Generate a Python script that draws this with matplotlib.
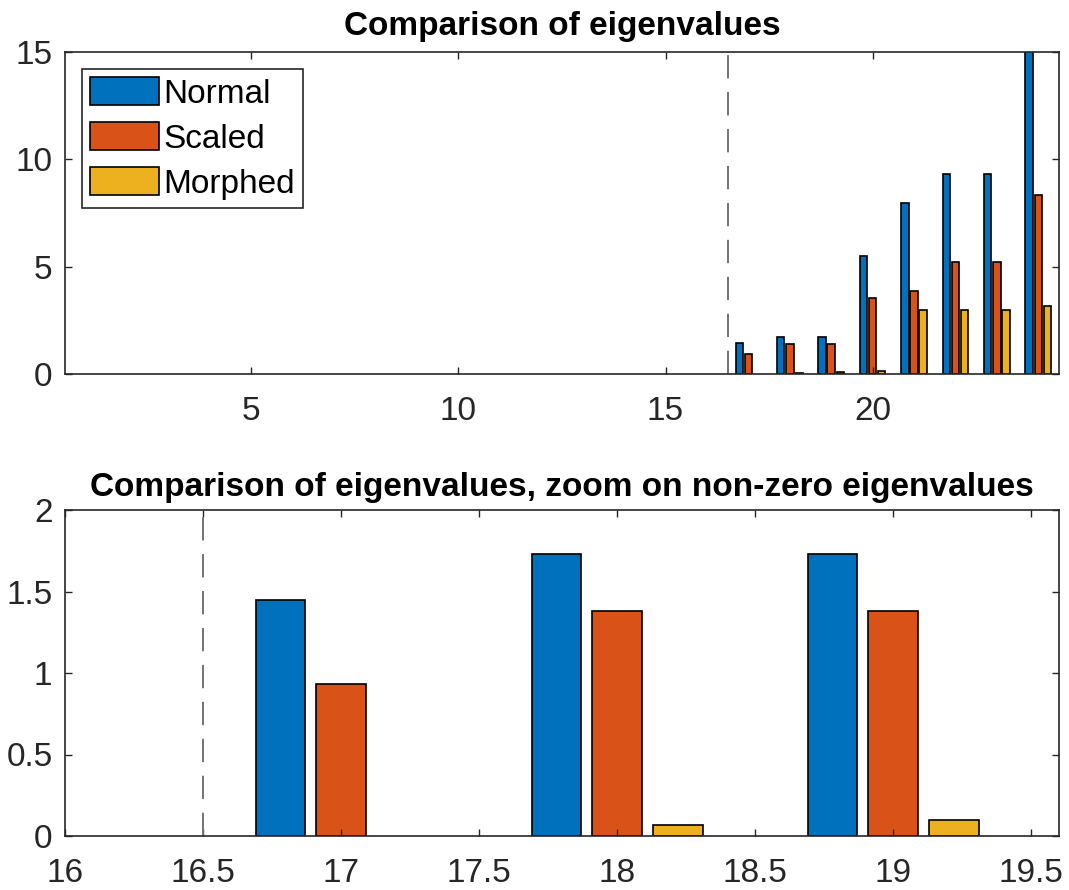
# Eigenvalue comparison, two panels (full range and zoom)

import numpy as np
import matplotlib.pyplot as plt

# eigenvalue index
idx = np.arange(1, 25)

# eigenvalues (first 16 are zero)
normal = [0]*16 + [1.45, 1.73, 1.73, 5.50, 7.95, 9.30, 9.30, 16.5]
scaled = [0]*16 + [0.93, 1.38, 1.38, 3.55, 3.85, 5.20, 5.20, 8.35]
morphed = [0]*16 + [0.0, 0.065, 0.10, 0.13, 2.97, 2.97, 2.97, 3.15]

labels = ['Normal', 'Scaled', 'Morphed']
colors = ['#0072BD', '#D95319', '#EDB120']
cut = 16.5  # dashed separator

plt.rcParams['font.family'] = ['Liberation Sans', 'DejaVu Sans']
fs = 24
grey = (0.15, 0.15, 0.15)

fig = plt.figure(figsize=(10.69, 8.9), dpi=100)
ax1 = fig.add_axes([65/1069, 1-374/890, (1059-65)/1069, (374-52)/890])
ax2 = fig.add_axes([65/1069, 1-836/890, (1059-65)/1069, (836-510)/890])

w = 0.18
offs = [-0.22, 0.0, 0.22]
series = [normal, scaled, morphed]

for ax in (ax1, ax2):
    for vals, off, c, lab in zip(series, offs, colors, labels):
        v = np.array(vals)
        nz = v > 0  # zero bars are not drawn
        ax.bar(idx[nz] + off, v[nz], width=w, color=c, edgecolor='k',
               linewidth=1.2, label=lab)
    ax.axvline(cut, color=(0.45, 0.45, 0.45), lw=1.4, dashes=(12, 7))
    ax.tick_params(direction='in', top=True, right=True, length=5, width=1,
                   labelsize=fs, colors=grey, labelcolor=grey)
    ax.tick_params(axis='y', pad=9)
    for sp in ax.spines.values():
        sp.set_color(grey)
        sp.set_linewidth(1.2)

ax1.tick_params(axis='x', pad=15.5)
ax2.tick_params(axis='x', pad=16)

ax1.set_xlim(0.5, 24.5)
ax1.set_ylim(0, 15)
ax1.set_xticks([5, 10, 15, 20])
ax1.set_yticks([0, 5, 10, 15])
ax1.set_title('Comparison of eigenvalues', fontsize=24, fontweight='bold', pad=12)
leg = ax1.legend(loc='upper left', fontsize=fs, fancybox=False, framealpha=1,
                 edgecolor=grey, handlelength=2.07, handleheight=0.93,
                 handletextpad=0.12, labelspacing=0.37, borderpad=0.25,
                 borderaxespad=0.5)
leg.get_frame().set_linewidth(1.2)

ax2.set_xlim(16, 19.6)
ax2.set_ylim(0, 2)
ax2.set_xticks(np.arange(16, 19.6, 0.5))
ax2.set_xticklabels(['16', '16.5', '17', '17.5', '18', '18.5', '19', '19.5'])
ax2.set_yticks([0, 0.5, 1, 1.5, 2])
ax2.set_yticklabels(['0', '0.5', '1', '1.5', '2'])
ax2.set_title('Comparison of eigenvalues, zoom on non-zero eigenvalues',
              fontsize=24, fontweight='bold', pad=10)

fig.savefig('out.png', dpi=100)
